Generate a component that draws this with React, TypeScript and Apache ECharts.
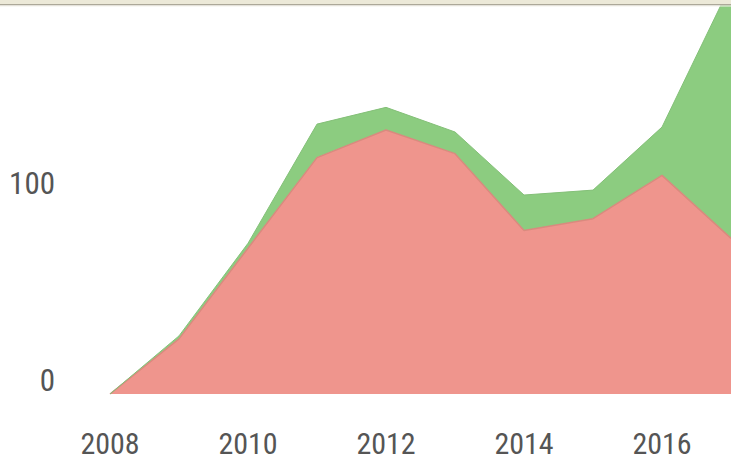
import React, { useEffect, useRef } from "react";
import * as echarts from "echarts";

const years = ["2008", "2009", "2010", "2011", "2012", "2013", "2014", "2015", "2016", "2017"];
const redValues = [0, 28, 74, 120, 134, 122, 83, 89, 111, 79];
const greenValues = [0, 1.5, 2.5, 17, 11.5, 11, 18, 14.5, 24.5, 129];
const yTicks = { min: 0, max: 200, interval: 100 };

export default function App() {
  const ref = useRef<HTMLDivElement>(null);
  useEffect(() => {
    const chart = echarts.init(ref.current!, undefined, { renderer: "svg" });
    const font = "'Liberation Sans Narrow', 'Roboto Condensed', Roboto, sans-serif";
    chart.setOption({
      animation: false,
      backgroundColor: "#ffffff",
      grid: { left: 110, right: 0, top: -2, bottom: 67, containLabel: false },
      xAxis: {
        type: "category",
        data: years,
        boundaryGap: false,
        axisLine: { show: false },
        axisTick: { show: false },
        splitLine: { show: false },
        axisLabel: {
          interval: 1,
          color: "#555555",
          fontFamily: font,
          fontSize: 30,
          lineHeight: 28,
          margin: 35,
        },
      },
      yAxis: {
        type: "value",
        min: yTicks.min,
        max: yTicks.max,
        interval: yTicks.interval,
        axisLine: { show: false },
        axisTick: { show: false },
        splitLine: { show: false },
        axisLabel: {
          showMaxLabel: false,
          color: "#555555",
          fontFamily: font,
          fontSize: 31,
          lineHeight: 28,
          margin: 55,
          verticalAlign: "bottom",
        },
      },
      series: [
        {
          name: "red",
          type: "line",
          stack: "total",
          data: redValues,
          symbol: "none",
          lineStyle: { color: "#d98a7e", width: 1.5 },
          areaStyle: { color: "#ef958d", opacity: 1 },
        },
        {
          name: "green",
          type: "line",
          stack: "total",
          data: greenValues,
          symbol: "none",
          lineStyle: { color: "#84c078", width: 1 },
          areaStyle: { color: "#8ccc80", opacity: 1 },
        },
      ],
      graphic: [
        { type: "rect", left: 0, top: 0, shape: { width: 731, height: 4 }, style: { fill: "#ece9d8" }, z: 100 },
        { type: "rect", left: 0, top: 4, shape: { width: 731, height: 1.5 }, style: { fill: "#aca899" }, z: 100 },
        { type: "rect", left: 0, top: 5.5, shape: { width: 731, height: 1 }, style: { fill: "#f3f1ea" }, z: 100 },
      ],
    });
    return () => chart.dispose();
  }, []);
  return (
    <div
      ref={ref}
      style={{ position: "fixed", left: 0, top: 0, width: 731, height: 461 }}
    />
  );
}
